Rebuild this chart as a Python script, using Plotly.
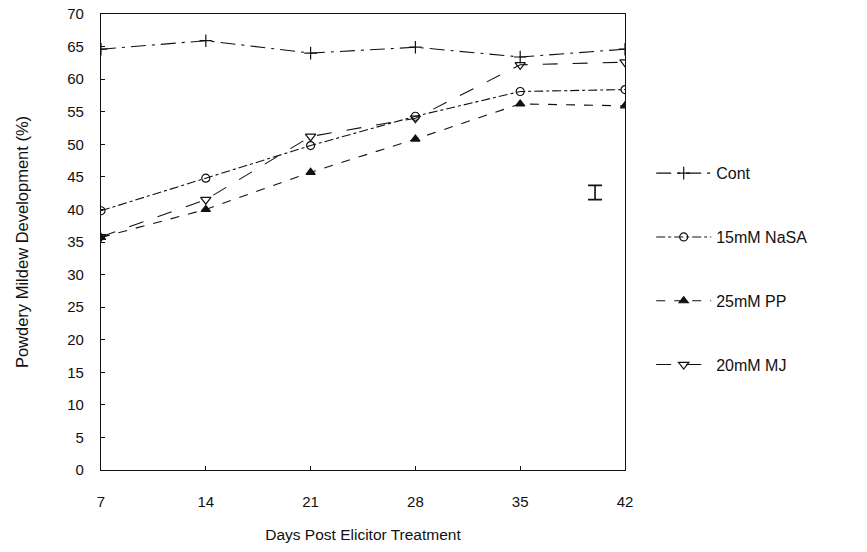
import plotly.graph_objects as go

days = [7, 14, 21, 28, 35, 42]
cont = [64.6, 65.9, 64.0, 64.9, 63.4, 64.6]
nasa = [39.8, 44.8, 49.8, 54.3, 58.1, 58.4]
pp = [35.7, 40.0, 45.7, 50.8, 56.2, 55.9]
mj = [35.8, 41.5, 51.2, 54.0, 62.2, 62.6]
names = ["Cont", "15mM NaSA", "25mM PP", "20mM MJ"]
lsd_x = [40]
lsd_y = [42.6]
lsd_err = [1.1]
yticks = list(range(0, 75, 5))

FONT = "Liberation Sans, Arial, sans-serif"
INK = "#111111"

series = [
    (names[0], cont, "cross-thin-open", "longdashdot", 9),
    (names[1], nasa, "circle-open", "dashdot", 8),
    (names[2], pp, "triangle-up", "dash", 8),
    (names[3], mj, "triangle-down-open", "longdash", 9),
]

fig = go.Figure()
for i, (nm, ys, sym, dash, ms) in enumerate(series):
    fig.add_trace(go.Scatter(
        x=days, y=ys, name=nm, mode="lines+markers",
        line=dict(color=INK, width=1.1, dash=dash),
        marker=dict(symbol=sym, size=ms, color=INK,
                    line=dict(color=INK, width=1.2)),
        legendgroup=f"g{i}",
    ))

fig.add_trace(go.Scatter(
    x=lsd_x, y=lsd_y, mode="markers", showlegend=False,
    marker=dict(size=1, color=INK),
    error_y=dict(type="data", array=lsd_err, visible=True,
                 color=INK, thickness=1.6, width=7),
))

fig.update_layout(
    width=867, height=552,
    margin=dict(l=101, r=242, t=14, b=82),
    paper_bgcolor="white", plot_bgcolor="white",
    font=dict(family=FONT, size=15, color=INK),
    showlegend=True,
    legend=dict(
        x=1.05, y=0.688, xanchor="left", yanchor="top",
        font=dict(family=FONT, size=16, color=INK),
        itemwidth=55,
        tracegroupgap=40, bgcolor="rgba(0,0,0,0)",
    ),
)

fig.update_xaxes(
    range=[7, 42], tickvals=days, ticktext=[str(d) for d in days],
    showline=True, linecolor=INK, linewidth=1.2, mirror=True,
    ticks="inside", ticklen=4, tickcolor=INK, showgrid=False, zeroline=False,
    ticklabelstandoff=18, tickfont=dict(size=15), automargin=False,
    title=dict(text="Days Post Elicitor Treatment", standoff=20,
               font=dict(family=FONT, size=15.5, color=INK)),
)
fig.update_yaxes(
    range=[0, 70], tickvals=yticks,
    showline=True, linecolor=INK, linewidth=1.2, mirror=True,
    ticks="inside", ticklen=4, tickcolor=INK, showgrid=False, zeroline=False,
    ticklabelstandoff=13, tickfont=dict(size=15), automargin=False,
    title=dict(text="Powdery Mildew Development (%)", standoff=34,
               font=dict(family=FONT, size=16.5, color=INK)),
)

fig.write_html("out.html")
